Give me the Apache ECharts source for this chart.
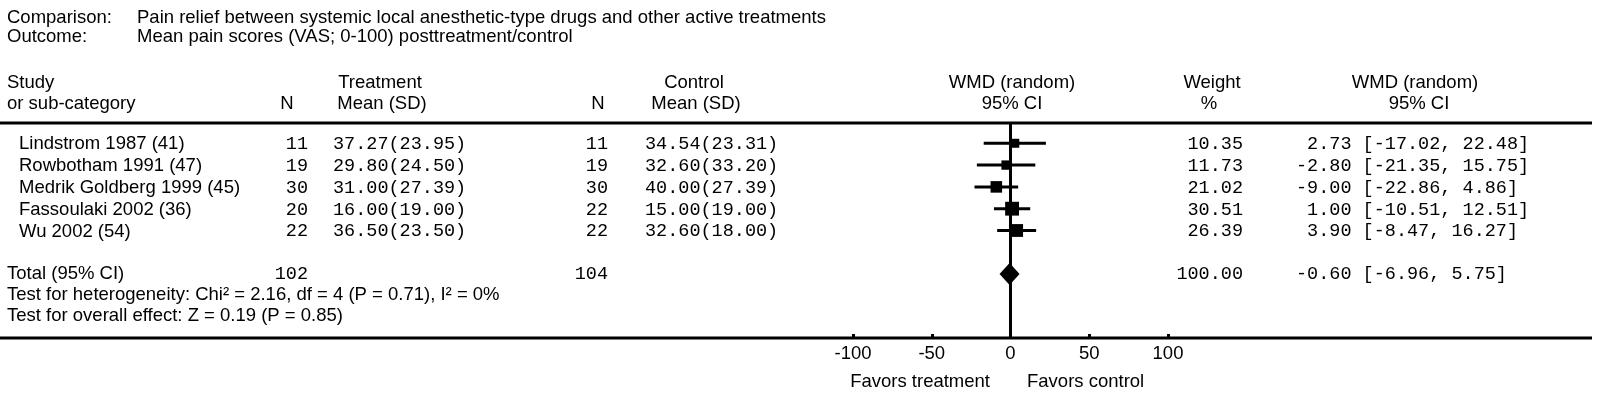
<!DOCTYPE html>
<html>
<head>
<meta charset="utf-8">
<script src="https://cdn.jsdelivr.net/npm/echarts@6/dist/echarts.min.js"></script>
<style>
html, body { margin: 0; padding: 0; background: #fff; }
#chart { width: 1600px; height: 396px; }
</style>
</head>
<body>
<div id="chart"></div>
<script>
// study rows
var studies = ['Lindstrom 1987 (41)', 'Rowbotham 1991 (47)', 'Medrik Goldberg 1999 (45)', 'Fassoulaki 2002 (36)', 'Wu 2002 (54)'];
var treatN = [11, 19, 30, 20, 22];
var treatMean = [37.27, 29.80, 31.00, 16.00, 36.50];
var treatSD = [23.95, 24.50, 27.39, 19.00, 23.50];
var ctrlN = [11, 19, 30, 22, 22];
var ctrlMean = [34.54, 32.60, 40.00, 15.00, 32.60];
var ctrlSD = [23.31, 33.20, 27.39, 19.00, 18.00];
var weights = [10.35, 11.73, 21.02, 30.51, 26.39];
var wmd = [2.73, -2.80, -9.00, 1.00, 3.90];
var ciLow = [-17.02, -21.35, -22.86, -10.51, -8.47];
var ciHigh = [22.48, 15.75, 4.86, 12.51, 16.27];

// pooled
var totalN = [102, 104];
var totalWeight = 100.00;
var totalEffect = [-0.60, -6.96, 5.75];

var xTicks = [-100, -50, 0, 50, 100];

var SANS = "'Liberation Sans', Arial, sans-serif";
var MONO = "'Liberation Mono', 'Courier New', monospace";
var FS = 18.5;
var TOTAL_ROW = 6;

var chart = echarts.init(document.getElementById('chart'));

function f2(v) { return v.toFixed(2); }

var ciData = wmd.map(function (v, i) { return [v, ciLow[i], ciHigh[i], i, weights[i]]; });

var option = {
  animation: false,
  grid: { left: 853, right: 432, top: 123, bottom: 58 },
  xAxis: {
    type: 'value',
    min: xTicks[0], max: xTicks[xTicks.length - 1], interval: 50,
    axisLine: { show: false, onZero: false },
    axisTick: { show: true, inside: true, length: 4, lineStyle: { color: '#000', width: 3 } },
    axisLabel: { color: '#000', fontFamily: SANS, fontSize: FS, margin: 6 },
    splitLine: { show: false }
  },
  yAxis: {
    type: 'value', inverse: true, min: -0.93, max: 8.93,
    show: false
  },
  series: [
    {
      type: 'custom',
      data: ciData,
      renderItem: function (params, api) {
        var lo = api.coord([api.value(1), api.value(3)]);
        var hi = api.coord([api.value(2), api.value(3)]);
        var c = api.coord([api.value(0), api.value(3)]);
        var s = 6.5 + api.value(4) * 0.24;
        return {
          type: 'group',
          children: [
            { type: 'line', shape: { x1: lo[0], y1: lo[1], x2: hi[0], y2: hi[1] }, style: { stroke: '#000', lineWidth: 3 } },
            { type: 'rect', shape: { x: c[0] - s / 2, y: c[1] - s / 2, width: s, height: s }, style: { fill: '#000' } }
          ]
        };
      },
      markLine: {
        silent: true, symbol: 'none', label: { show: false },
        lineStyle: { color: '#000', width: 3, type: 'solid' },
        data: [{ xAxis: 0 }]
      },
      z: 3
    },
    {
      type: 'custom',
      data: [[totalEffect[0], totalEffect[1], totalEffect[2], TOTAL_ROW]],
      renderItem: function (params, api) {
        var c = api.coord([api.value(0), api.value(3)]);
        var lo = api.coord([api.value(1), api.value(3)]);
        var hi = api.coord([api.value(2), api.value(3)]);
        var h = 11;
        return {
          type: 'polygon',
          shape: { points: [[lo[0], c[1]], [c[0], c[1] - h], [hi[0], c[1]], [c[0], c[1] + h]] },
          style: { fill: '#000' }
        };
      },
      z: 4
    }
  ]
};
chart.setOption(option);

function rowY(i) { return chart.convertToPixel({ gridIndex: 0 }, [0, i])[1]; }

function txt(x, y, s, opts) {
  opts = opts || {};
  return {
    type: 'text', x: x, y: y, silent: true,
    style: {
      text: s, fill: '#000',
      font: FS + 'px ' + (opts.mono ? MONO : SANS),
      textAlign: opts.align || 'left', textVerticalAlign: 'middle'
    }
  };
}

var els = [];
// title block
els.push(txt(7, 17.5, 'Comparison:'));
els.push(txt(137, 17.5, 'Pain relief between systemic local anesthetic-type drugs and other active treatments'));
els.push(txt(7, 36.5, 'Outcome:'));
els.push(txt(137, 36.5, 'Mean pain scores (VAS; 0-100) posttreatment/control'));

// column headers
var H1 = 83, H2 = 104;
els.push(txt(7, H1, 'Study'));
els.push(txt(7, H2, 'or sub-category'));
els.push(txt(380, H1, 'Treatment', { align: 'center' }));
els.push(txt(287, H2, 'N', { align: 'center' }));
els.push(txt(382, H2, 'Mean (SD)', { align: 'center' }));
els.push(txt(694, H1, 'Control', { align: 'center' }));
els.push(txt(598, H2, 'N', { align: 'center' }));
els.push(txt(696, H2, 'Mean (SD)', { align: 'center' }));
els.push(txt(1012, H1, 'WMD (random)', { align: 'center' }));
els.push(txt(1012, H2, '95% CI', { align: 'center' }));
els.push(txt(1212, H1, 'Weight', { align: 'center' }));
els.push(txt(1209, H2, '%', { align: 'center' }));
els.push(txt(1415, H1, 'WMD (random)', { align: 'center' }));
els.push(txt(1419, H2, '95% CI', { align: 'center' }));

// study rows
studies.forEach(function (s, i) {
  var y = rowY(i) + 1;
  els.push(txt(19, y, s));
  els.push(txt(308, y, String(treatN[i]), { mono: true, align: 'right' }));
  els.push(txt(333, y, f2(treatMean[i]) + '(' + f2(treatSD[i]) + ')', { mono: true }));
  els.push(txt(608, y, String(ctrlN[i]), { mono: true, align: 'right' }));
  els.push(txt(645, y, f2(ctrlMean[i]) + '(' + f2(ctrlSD[i]) + ')', { mono: true }));
  els.push(txt(1243, y, f2(weights[i]), { mono: true, align: 'right' }));
  els.push(txt(1296, y, f2(wmd[i]).padStart(5, ' ') + ' [' + f2(ciLow[i]) + ', ' + f2(ciHigh[i]) + ']', { mono: true }));
});

// pooled row + tests
var ty = rowY(TOTAL_ROW);
els.push(txt(7, ty, 'Total (95% CI)'));
els.push(txt(308, ty, String(totalN[0]), { mono: true, align: 'right' }));
els.push(txt(608, ty, String(totalN[1]), { mono: true, align: 'right' }));
els.push(txt(1243, ty, f2(totalWeight), { mono: true, align: 'right' }));
els.push(txt(1296, ty, f2(totalEffect[0]).padStart(5, ' ') + ' [' + f2(totalEffect[1]) + ', ' + f2(totalEffect[2]) + ']', { mono: true }));
els.push(txt(7, ty + 21, 'Test for heterogeneity: Chi\u00b2 = 2.16, df = 4 (P = 0.71), I\u00b2 = 0%'));
els.push(txt(7, ty + 42, 'Test for overall effect: Z = 0.19 (P = 0.85)'));

// rules
els.push({ type: 'line', silent: true, shape: { x1: 0, y1: 123, x2: 1592, y2: 123 }, style: { stroke: '#000', lineWidth: 3 } });
els.push({ type: 'line', silent: true, shape: { x1: 0, y1: 338, x2: 1592, y2: 338 }, style: { stroke: '#000', lineWidth: 3 } });

// direction labels
els.push(txt(990, 382, 'Favors treatment', { align: 'right' }));
els.push(txt(1027, 382, 'Favors control'));

chart.setOption({ graphic: { elements: els } });
</script>
</body>
</html>
